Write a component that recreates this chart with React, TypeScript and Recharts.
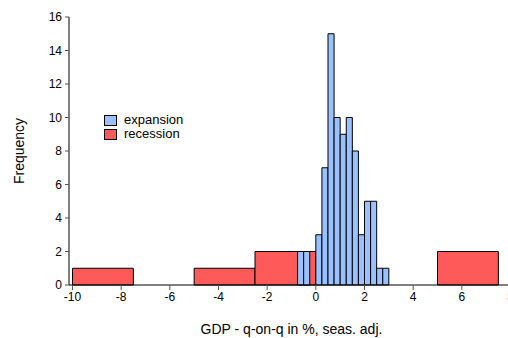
import React from 'react';
import { ComposedChart, XAxis, YAxis, ReferenceArea, Label, Scatter } from 'recharts';

// bin edges (left, right) and counts
const expansionStart = [-0.75, -0.5, 0, 0.25, 0.5, 0.75, 1, 1.25, 1.5, 1.75, 2, 2.25, 2.5, 2.75];
const expansionEnd = [-0.5, -0.25, 0.25, 0.5, 0.75, 1, 1.25, 1.5, 1.75, 2, 2.25, 2.5, 2.75, 3];
const expansionCount = [2, 2, 3, 7, 15, 10, 9, 10, 8, 3, 5, 5, 1, 1];

const recessionStart = [-10, -5, -2.5, 5];
const recessionEnd = [-7.5, -2.5, 0, 7.5];
const recessionCount = [1, 1, 2, 2];

const xTicks = [-10, -8, -6, -4, -2, 0, 2, 4, 6, 8];
const yTicks = [0, 2, 4, 6, 8, 10, 12, 14, 16];

const BLUE = '#99c0ff';
const RED = '#ff5a5a';
const FONT = '"Liberation Sans", Arial, sans-serif';

const expansion = expansionStart.map((x0, i) => ({ x0, x1: expansionEnd[i], count: expansionCount[i] }));
const recession = recessionStart.map((x0, i) => ({ x0, x1: recessionEnd[i], count: recessionCount[i] }));
const anchor = [...recession, ...expansion].map((b) => ({ x: (b.x0 + b.x1) / 2, y: b.count }));

const legendItems = [
  { name: 'expansion', color: BLUE },
  { name: 'recession', color: RED },
];

export default function App() {
  return (
    <div
      style={{
        position: 'fixed',
        left: 0,
        top: 0,
        width: 508,
        height: 338,
        overflow: 'hidden',
        background: '#fff',
      }}
    >
      <ComposedChart
        width={520}
        height={338}
        data={anchor}
        margin={{ top: 17, right: 6, bottom: 0, left: 0 }}
      >
        <XAxis
          type="number"
          dataKey="x"
          domain={[-10, 8]}
          ticks={xTicks}
          padding={{ left: 3.5, right: 3.5 }}
          height={53}
          tickSize={5}
          tickMargin={2}
          axisLine={{ stroke: '#000' }}
          tickLine={{ stroke: '#555' }}
          tick={{ fill: '#000', fontSize: 12, fontFamily: FONT }}
          interval={0}
          allowDataOverflow
        >
          <Label
            value="GDP - q-on-q in %, seas. adj."
            position="insideBottom"
            offset={4}
            style={{ fill: '#000', fontSize: 14, fontFamily: FONT }}
          />
        </XAxis>
        <XAxis
          xAxisId="top"
          orientation="top"
          type="number"
          domain={[-10, 8]}
          height={0}
          tick={false}
          tickLine={false}
          axisLine={{ stroke: '#000' }}
        />
        <YAxis
          type="number"
          dataKey="y"
          domain={[0, 16]}
          ticks={yTicks}
          width={69}
          tickSize={4}
          tickMargin={3}
          axisLine={{ stroke: '#000' }}
          tickLine={{ stroke: '#555' }}
          tick={{ fill: '#000', fontSize: 12, fontFamily: FONT }}
          interval={0}
        >
          <Label
            value="Frequency"
            angle={-90}
            position="insideLeft"
            offset={19}
            style={{ fill: '#000', fontSize: 14, fontFamily: FONT, textAnchor: 'middle' }}
          />
        </YAxis>
        <Scatter dataKey="y" shape={() => null} isAnimationActive={false} legendType="none" />
        {recession.map((b, i) => (
          <ReferenceArea
            key={`r-${i}`}
            x1={b.x0}
            x2={b.x1}
            y1={0}
            y2={b.count}
            fill={RED}
            fillOpacity={1}
            stroke="#000"
            strokeWidth={1}
            ifOverflow="visible"
          />
        ))}
        {expansion.map((b, i) => (
          <ReferenceArea
            key={`e-${i}`}
            x1={b.x0}
            x2={b.x1}
            y1={0}
            y2={b.count}
            fill={BLUE}
            fillOpacity={1}
            stroke="#000"
            strokeWidth={1}
            ifOverflow="visible"
          />
        ))}
      </ComposedChart>
      {/* legend */}
      <div
        style={{
          position: 'absolute',
          left: 104,
          top: 113,
          fontFamily: FONT,
          fontSize: 13,
          lineHeight: '14px',
          color: '#000',
        }}
      >
        {legendItems.map((it) => (
          <div key={it.name} style={{ display: 'flex', alignItems: 'center', height: 14 }}>
            <span
              style={{
                flex: 'none',
                width: 11,
                height: 9,
                background: it.color,
                border: '1px solid #000',
                marginRight: 7,
              }}
            />
            <span>{it.name}</span>
          </div>
        ))}
      </div>
    </div>
  );
}
